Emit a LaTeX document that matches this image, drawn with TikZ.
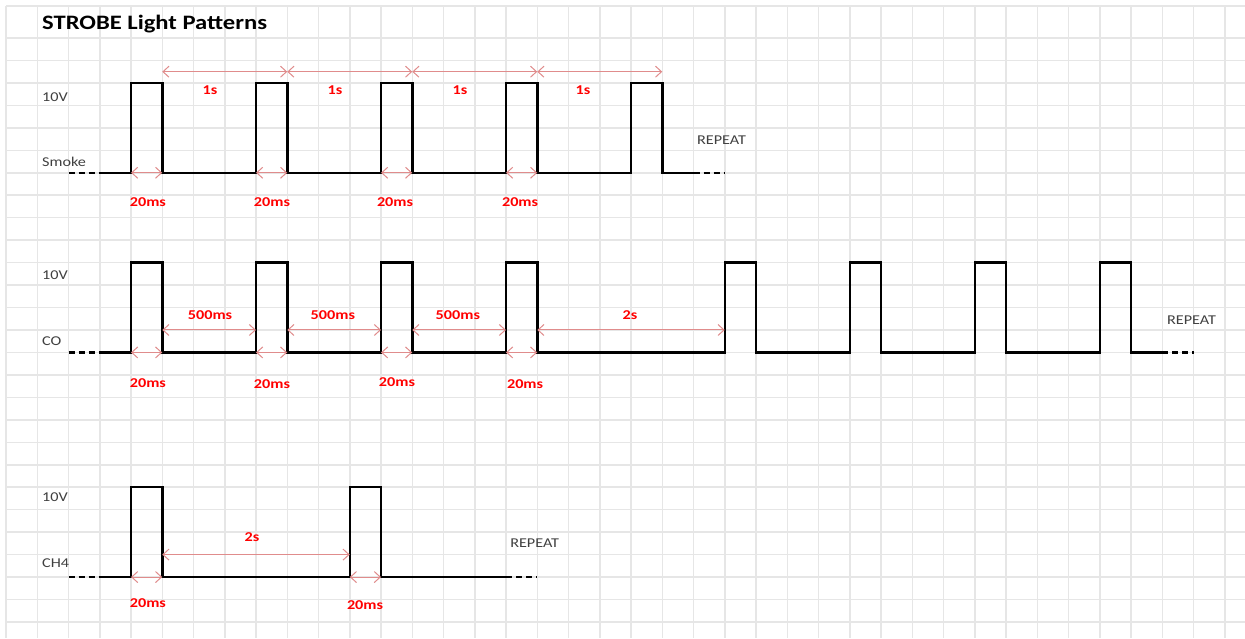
\documentclass[tikz,border=0pt]{standalone}
\usepackage{fontspec}
\setmainfont[FakeStretch=1.2]{Carlito}
\usetikzlibrary{arrows.meta}
\definecolor{gridc}{RGB}{230,230,230}
\definecolor{dimc}{RGB}{224,140,140}
\definecolor{txtc}{RGB}{64,64,64}
\definecolor{redc}{RGB}{255,0,0}
\begin{document}
\begin{tikzpicture}[x=31.25pt,y=-22.46pt,
  gridline/.style={gridc,line width=1.5pt},
  wave/.style={black,line width=2.5pt,line join=miter},
  waveend/.style={black,line width=2.2pt,dash pattern=on 6pt off 4pt},
  dim/.style={dimc,line width=1pt,{Straight Barb[length=6pt,width=11pt]}-{Straight Barb[length=6pt,width=11pt]}},
  lbl/.style={txtc,font=\fontsize{13.5}{15}\selectfont,anchor=west,inner sep=0pt},
  red/.style={redc,font=\fontsize{13.5}{15}\selectfont\bfseries,inner sep=0pt},
  title/.style={black,font=\fontsize{20.5}{24}\selectfont\bfseries,anchor=west,inner sep=0pt}]
\useasboundingbox[fill=white] (-0.192,-1.692) rectangle (39.648,26.714);
% grid
\foreach \k in {0,...,39} \draw[gridline] (\k,-1.4247) -- (\k,26.714);
\draw[gridline] (0,-1.4247) -- (39.648,-1.4247);
\foreach \r in {0,...,26} \draw[gridline] (0,\r) -- (39.648,\r);
% title
\node[title] (title) at (1.152,-0.62) {STROBE Light Patterns};
% coordinates
\foreach \k in {4,5,8,9,12,13,16,17} {\coordinate (sb\k) at (\k,6); \coordinate (cb\k) at (\k,14);}
\foreach \k in {5,9,13,17,21} \coordinate (sa\k) at (\k,1.5);
\foreach \k in {5,8,9,12,13,16,17,23} \coordinate (ca\k) at (\k,13);
\foreach \k in {4,5,11,12} \coordinate (hb\k) at (\k,24);
\foreach \k in {5,11} \coordinate (ha\k) at (\k,23);
% ---------- Smoke ----------
\draw[waveend] (2,6) -- (3,6);
\draw[wave] (3,6) -- (4,6) -- (4,2) -- (5,2) -- (5,6) -- (8,6) -- (8,2) -- (9,2) -- (9,6)
  -- (12,6) -- (12,2) -- (13,2) -- (13,6) -- (16,6) -- (16,2) -- (17,2) -- (17,6)
  -- (20,6) -- (20,2) -- (21,2) -- (21,6) -- (22,6);
\draw[waveend] (22,6) -- (23,6);
\node[lbl] (s10v) at (1.152,2.63) {10V};
\node[lbl] (smoke) at (1.152,5.52) {Smoke};
\node[lbl] (srep) at (22.11,4.54) {REPEAT};
\draw[dim] (sa5) -- (sa9);
\draw[dim] (sa9) -- (sa13);
\draw[dim] (sa13) -- (sa17);
\draw[dim] (sa17) -- (sa21);
\node[red] (s1s1) at (6.53,2.32) {1s};
\node[red] (s1s2) at (10.53,2.32) {1s};
\node[red] (s1s3) at (14.53,2.32) {1s};
\node[red] (s1s4) at (18.46,2.32) {1s};
\draw[dim] (sb4) -- (sb5);
\draw[dim] (sb8) -- (sb9);
\draw[dim] (sb12) -- (sb13);
\draw[dim] (sb16) -- (sb17);
\node[red] (s20a) at (4.54,7.3) {20ms};
\node[red] (s20b) at (8.51,7.3) {20ms};
\node[red] (s20c) at (12.45,7.3) {20ms};
\node[red] (s20d) at (16.45,7.3) {20ms};
% ---------- CO ----------
\draw[waveend] (2,14) -- (3,14);
\draw[wave] (3,14) -- (4,14) -- (4,10) -- (5,10) -- (5,14) -- (8,14) -- (8,10) -- (9,10) -- (9,14)
  -- (12,14) -- (12,10) -- (13,10) -- (13,14) -- (16,14) -- (16,10) -- (17,10) -- (17,14)
  -- (23,14) -- (23,10) -- (24,10) -- (24,14) -- (27,14) -- (27,10) -- (28,10) -- (28,14)
  -- (31,14) -- (31,10) -- (32,10) -- (32,14) -- (35,14) -- (35,10) -- (36,10) -- (36,14) -- (37,14);
\draw[waveend] (37,14) -- (38,14);
\node[lbl] (c10v) at (1.152,10.55) {10V};
\node[lbl] (co) at (1.152,13.49) {CO};
\node[lbl] (crep) at (37.15,12.56) {REPEAT};
\draw[dim] (ca5) -- (ca8);
\draw[dim] (ca9) -- (ca12);
\draw[dim] (ca13) -- (ca16);
\draw[dim] (ca17) -- (ca23);
\node[red] (c500a) at (6.53,12.33) {500ms};
\node[red] (c500b) at (10.46,12.33) {500ms};
\node[red] (c500c) at (14.46,12.33) {500ms};
\node[red] (c2s) at (19.97,12.33) {2s};
\draw[dim] (cb4) -- (cb5);
\draw[dim] (cb8) -- (cb9);
\draw[dim] (cb12) -- (cb13);
\draw[dim] (cb16) -- (cb17);
\node[red] (c20a) at (4.54,15.36) {20ms};
\node[red] (c20b) at (8.51,15.40) {20ms};
\node[red] (c20c) at (12.51,15.30) {20ms};
\node[red] (c20d) at (16.61,15.40) {20ms};
% ---------- CH4 ----------
\draw[waveend] (2,24) -- (3,24);
\draw[wave] (3,24) -- (4,24) -- (4,20) -- (5,20) -- (5,24) -- (11,24) -- (11,20) -- (12,20) -- (12,24) -- (16,24);
\draw[waveend] (16,24) -- (17,24);
\node[lbl] (h10v) at (1.152,20.44) {10V};
\node[lbl] (ch4) at (1.152,23.38) {CH4};
\node[lbl] (hrep) at (16.13,22.48) {REPEAT};
\draw[dim] (ha5) -- (ha11);
\node[red] (h2s) at (7.87,22.2) {2s};
\draw[dim] (hb4) -- (hb5);
\draw[dim] (hb11) -- (hb12);
\node[red] (h20a) at (4.54,25.16) {20ms};
\node[red] (h20b) at (11.49,25.24) {20ms};
\end{tikzpicture}
\end{document}
